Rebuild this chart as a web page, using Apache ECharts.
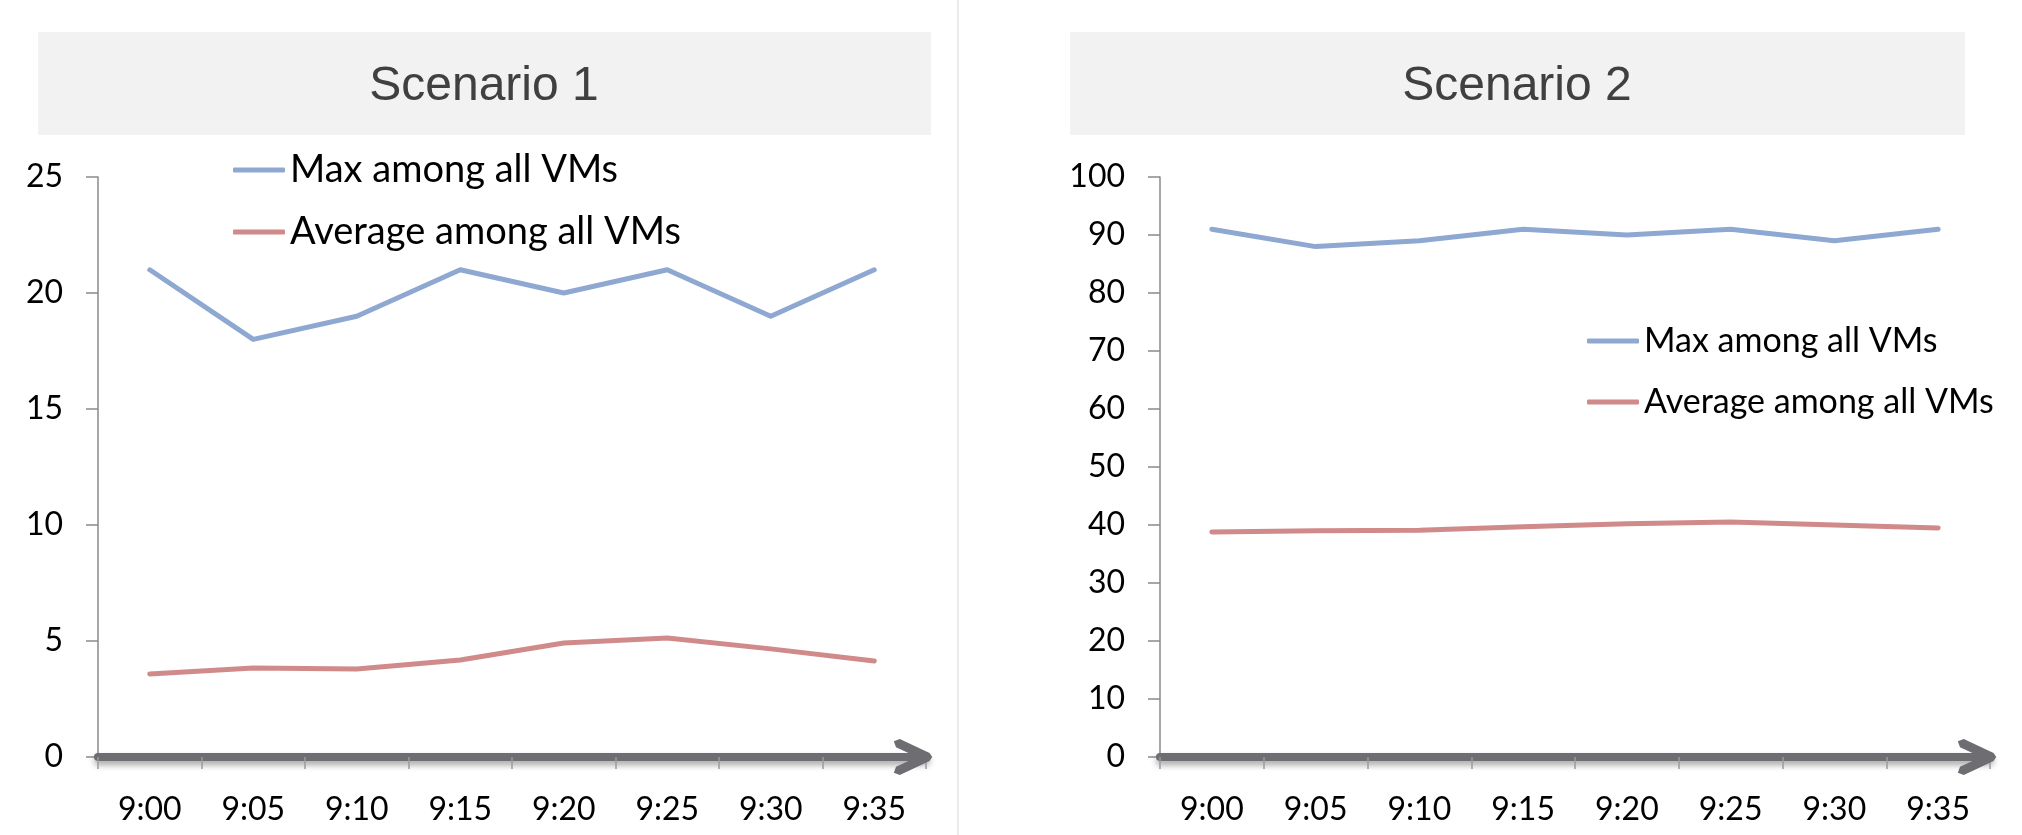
<!DOCTYPE html>
<html><head><meta charset="utf-8">
<script src="https://cdn.jsdelivr.net/npm/echarts@6/dist/echarts.min.js"></script>
<style>html,body{margin:0;padding:0;background:#fff}#c{width:2022px;height:835px}</style>
</head><body><div id="c"></div>
<script>
// ---- data ----
const categories = ['9:00', '9:05', '9:10', '9:15', '9:20', '9:25', '9:30', '9:35'];
const seriesNames = ['Max among all VMs', 'Average among all VMs'];
const scenario1Max = [21, 18, 19, 21, 20, 21, 19, 21];
const scenario1Avg = [3.58, 3.84, 3.79, 4.18, 4.91, 5.13, 4.66, 4.14];
const scenario2Max = [91, 88, 89, 91, 90, 91, 89, 91];
const scenario2Avg = [38.8, 39.0, 39.1, 39.7, 40.2, 40.5, 40.0, 39.5];
const titles = ['Scenario 1', 'Scenario 2'];
const yTicks1 = {min: 0, max: 25, interval: 5};
const yTicks2 = {min: 0, max: 100, interval: 10};

// ---- style ----
const BLUE = '#8ea8d2';
const RED = '#d08a8a';
const FONT = 'Lato, "Open Sans", sans-serif';
const TITLE_FONT = '"Liberation Sans Narrow", "Liberation Sans", Arial, sans-serif';
const AXIS_GREY = '#6e6e72';
const chevron = 'path://M0,-4.5 L4.08,-1.9 L18.1,28.1 L15.9,34.1 L9.9,31.9 L0,10.7 L-9.9,31.9 L-15.9,34.1 L-18.1,28.1 L-4.08,-1.9 Z';

function xAxis(gi) {
  return {
    type: 'category', gridIndex: gi, data: categories, boundaryGap: true,
    axisLine: {
      show: true,
      symbol: ['none', chevron], symbolSize: [36, 39], symbolOffset: [0, -13],
      lineStyle: {color: AXIS_GREY, width: 8, shadowColor: 'rgba(0,0,0,0.35)', shadowBlur: 6, shadowOffsetY: 4}
    },
    axisTick: {show: true, alignWithLabel: false, length: 12, lineStyle: {color: '#9a9a9a', width: 1.5}},
    axisLabel: {color: '#000', fontFamily: FONT, fontSize: 32, margin: 37},
    splitLine: {show: false}, z: 5
  };
}
function yAxis(gi, t) {
  return {
    type: 'value', gridIndex: gi, min: t.min, max: t.max, interval: t.interval,
    axisLine: {show: true, lineStyle: {color: '#8a8a8a', width: 1.5}},
    axisTick: {show: true, length: 12, lineStyle: {color: '#8a8a8a', width: 1.5}},
    axisLabel: {color: '#000', fontFamily: FONT, fontSize: 32, margin: 35},
    splitLine: {show: false}
  };
}
function line(name, data, color, gi) {
  return {
    type: 'line', name: name, data: data, xAxisIndex: gi, yAxisIndex: gi,
    symbol: 'none', smooth: false, color: color,
    lineStyle: {color: color, width: 5, cap: 'round', join: 'round'}, z: 3
  };
}
function legend(left, top, fontSize, gap) {
  return {
    orient: 'vertical', left: left, top: top, itemGap: gap, itemWidth: 52, itemHeight: 5,
    icon: 'roundRect', data: seriesNames, selectedMode: false,
    textStyle: {color: '#000', fontFamily: FONT, fontSize: fontSize, lineHeight: 40}
  };
}

const chart = echarts.init(document.getElementById('c'), null, {renderer: 'canvas'});
chart.setOption({
  backgroundColor: '#fff',
  animation: false,
  graphic: [
    {type: 'rect', shape: {x: 38, y: 32, width: 893, height: 103}, style: {fill: '#f2f2f2'}, z: -10},
    {type: 'rect', shape: {x: 1070, y: 32, width: 895, height: 103}, style: {fill: '#f2f2f2'}, z: -10},
    {type: 'line', shape: {x1: 958, y1: 0, x2: 958, y2: 835}, style: {stroke: '#ebebeb', lineWidth: 2}, z: -10}
  ],
  title: [
    {text: titles[0], left: 484, top: 62, textAlign: 'center', padding: 0,
     textStyle: {color: '#404040', fontWeight: 'normal', fontFamily: TITLE_FONT, fontSize: 48, lineHeight: 50}},
    {text: titles[1], left: 1517, top: 62, textAlign: 'center', padding: 0,
     textStyle: {color: '#404040', fontWeight: 'normal', fontFamily: TITLE_FONT, fontSize: 48, lineHeight: 50}}
  ],
  legend: [legend(228, 145, 38, 22), legend(1582, 316, 34, 21)],
  grid: [
    {left: 98, top: 177, width: 828, height: 580, containLabel: false, outerBoundsMode: 'none'},
    {left: 1160, top: 177, width: 830, height: 580, containLabel: false, outerBoundsMode: 'none'}
  ],
  xAxis: [xAxis(0), xAxis(1)],
  yAxis: [yAxis(0, yTicks1), yAxis(1, yTicks2)],
  series: [
    line(seriesNames[0], scenario1Max, BLUE, 0),
    line(seriesNames[1], scenario1Avg, RED, 0),
    line(seriesNames[0], scenario2Max, BLUE, 1),
    line(seriesNames[1], scenario2Avg, RED, 1)
  ]
});
</script></body></html>
